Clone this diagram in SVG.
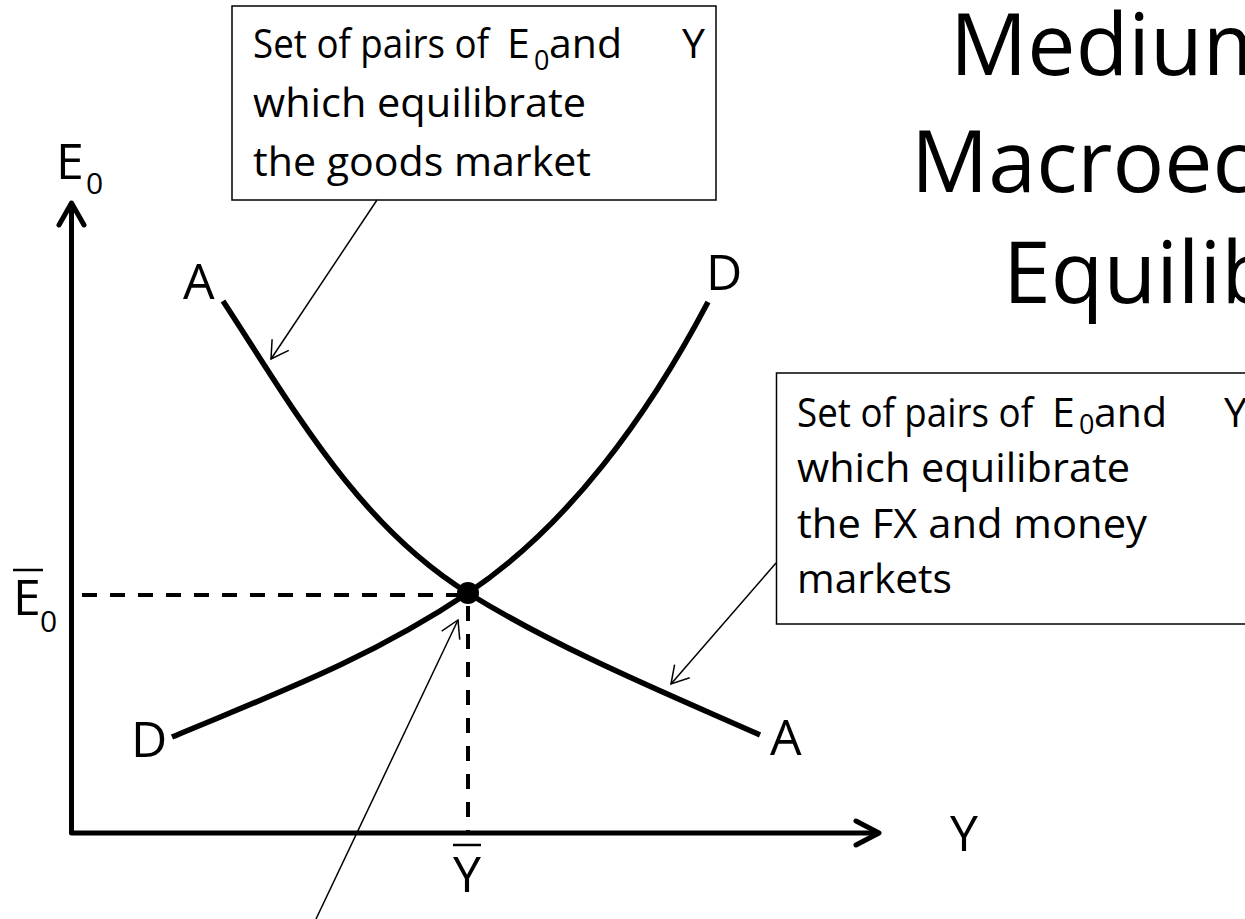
<svg xmlns="http://www.w3.org/2000/svg" width="1245" height="919" viewBox="0 0 1245 919">
<defs>
<style>
text{font-family:"Open Sans","Liberation Sans",sans-serif;fill:#000}
.box{fill:#fff;stroke:#000;stroke-width:1.5}
.curve{fill:none;stroke:#000;stroke-width:5.5}
.axis{fill:none;stroke:#000;stroke-width:5;stroke-linecap:round;stroke-linejoin:round}
.dash{fill:none;stroke:#000;stroke-width:4;stroke-dasharray:15 13}
.call{fill:none;stroke:#000;stroke-width:1.5;marker-end:url(#open)}
.bt{font-size:41px}
.bs{font-size:27px}
.lab{font-size:50px}
.ls{font-size:30px}
.title{font-size:86px}
.bar{stroke:#000;stroke-width:2.5}
</style>
<marker id="open" markerUnits="userSpaceOnUse" markerWidth="30" markerHeight="30" viewBox="-25 -15 30 30" refX="0" refY="0" orient="auto">
<path d="M-17,-10 L0,0 L-17,10" fill="none" stroke="#000" stroke-width="1.5"/>
</marker>
</defs>
<rect width="1245" height="919" fill="#fff"/>

<g id="title" class="title">
<text x="950" y="75">Medium</text>
<text x="911" y="192">Macroec</text>
<text x="1003" y="303">Equilib</text>
</g>

<g id="axes">
<path class="axis" d="M71.5,204 L71.5,833 L878,833"/>
<path class="axis" d="M59,225 L71.5,203 L84,225"/>
<path class="axis" d="M856,821 L879,833 L856,845"/>
<text class="lab" x="56" y="179">E</text><text class="ls" x="86" y="194">0</text>
<line class="bar" x1="13" y1="570" x2="43" y2="570"/>
<text class="lab" x="13" y="615">E</text><text class="ls" x="40" y="632">0</text>
<line class="bar" x1="453" y1="845" x2="481" y2="845"/>
<text class="lab" x="467" y="892" text-anchor="middle">Y</text>
<text class="lab" x="950" y="851">Y</text>
</g>

<g id="guides">
<line class="dash" x1="82" y1="595" x2="458" y2="595"/>
<line class="dash" x1="468" y1="606" x2="468" y2="833"/>
</g>

<g id="curve-AA">
<path class="curve" d="M223,301 C293,408 358,524.8 468,593 C558,649 670,695 760,735"/>
<text class="lab" x="183" y="299">A</text>
<text class="lab" x="770" y="755">A</text>
</g>

<g id="curve-DD">
<path class="curve" d="M172,737 C272,695 368,660 468,593 C568,526 648,416 708,302"/>
<text class="lab" x="131" y="757">D</text>
<text class="lab" x="706" y="290">D</text>
</g>

<g id="equilibrium">
<circle cx="468" cy="593" r="11" fill="#000"/>
</g>

<g id="box-goods">
<rect class="box" x="232" y="6" width="484" height="194"/>
<text class="bt" x="253" y="58" textLength="236" lengthAdjust="spacingAndGlyphs">Set of pairs of</text>
<text class="bt" x="507" y="58">E</text><text class="bs" x="534" y="70">0</text>
<text class="bt" x="549" y="58">and</text>
<text class="bt" x="682" y="58">Y</text>
<text class="bt" x="253" y="117" textLength="333" lengthAdjust="spacingAndGlyphs">which equilibrate</text>
<text class="bt" x="253" y="176" textLength="338" lengthAdjust="spacingAndGlyphs">the goods market</text>
</g>

<g id="box-fx">
<rect class="box" x="776.5" y="373" width="480" height="251"/>
<text class="bt" x="797" y="427" textLength="236" lengthAdjust="spacingAndGlyphs">Set of pairs of</text>
<text class="bt" x="1052" y="427">E</text><text class="bs" x="1079" y="434">0</text>
<text class="bt" x="1094" y="427">and</text>
<text class="bt" x="1224" y="427">Y</text>
<text class="bt" x="797" y="482" textLength="333" lengthAdjust="spacingAndGlyphs">which equilibrate</text>
<text class="bt" x="797" y="538" textLength="350" lengthAdjust="spacingAndGlyphs">the FX and money</text>
<text class="bt" x="797" y="593" textLength="155" lengthAdjust="spacingAndGlyphs">markets</text>
</g>

<g id="connectors">
<line class="call" x1="377" y1="200" x2="271" y2="359"/>
<line class="call" x1="776" y1="563" x2="671" y2="684"/>
<line class="call" x1="316" y1="919" x2="458" y2="620"/>
</g>
</svg>
